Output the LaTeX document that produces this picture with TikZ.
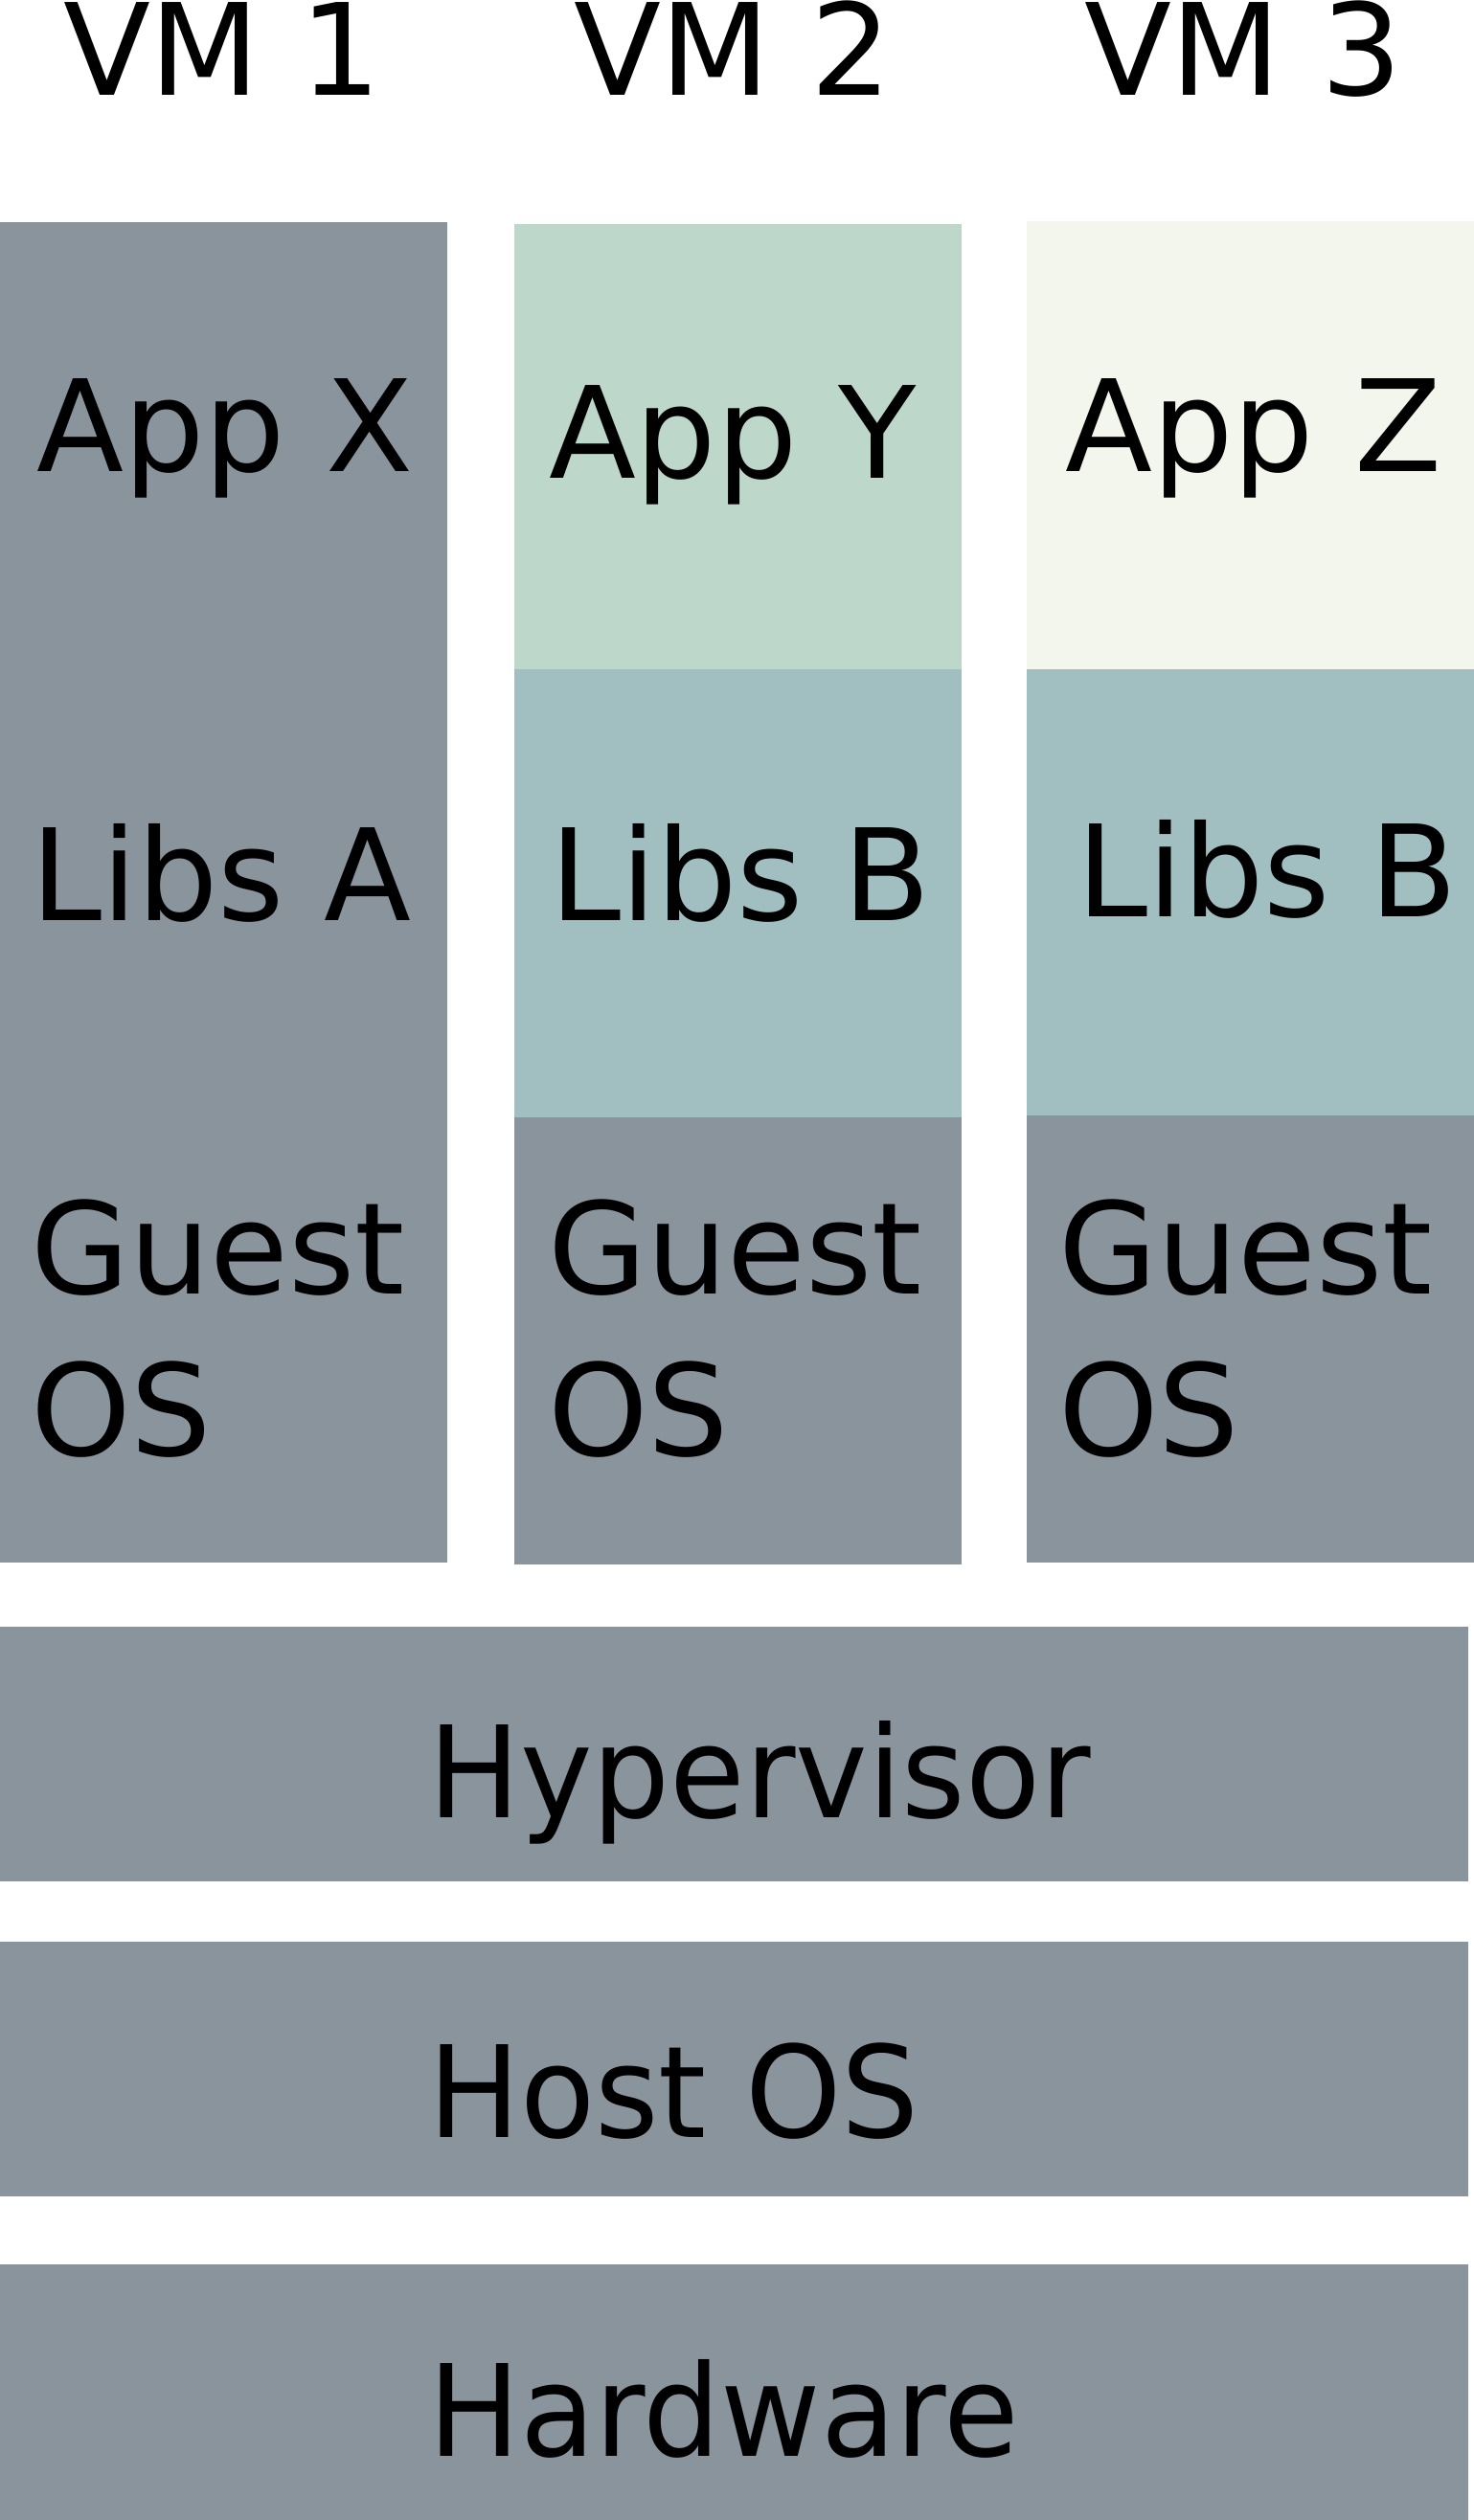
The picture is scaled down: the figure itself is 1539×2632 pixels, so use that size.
\documentclass[tikz,border=0pt]{standalone}
\usepackage{fontspec}
\setmainfont{DejaVu Sans}
\definecolor{slate}{HTML}{8A949D}
\definecolor{appY}{HTML}{BDD7CB}
\definecolor{appZ}{HTML}{F2F6EC}
\definecolor{libsB}{HTML}{A1BFC0}
\newcommand{\narrowtext}[1]{\scalebox{0.96}[1]{#1}}
\begin{document}
\begin{tikzpicture}[x=1pt,y=-1pt,
  box/.style={inner sep=0pt,outer sep=0pt,draw=none,anchor=north west},
  lbl/.style={inner sep=0pt,outer sep=0pt,anchor=base west,font=\fontsize{133}{169}\selectfont},
  glbl/.style={inner sep=0pt,outer sep=0pt,anchor=base west,align=left,font=\fontsize{133}{169}\selectfont}]
\useasboundingbox[fill=white] (0,0) rectangle (1539,2632);
% VM columns
\node[box,fill=slate,minimum width=467pt,minimum height=467pt] (appx) at (0,232) {};
\node[box,fill=slate,minimum width=467pt,minimum height=466pt] (libsa) at (0,699) {};
\node[box,fill=slate,minimum width=467pt,minimum height=467pt] (guest1) at (0,1165) {};
\node[box,fill=appY,minimum width=466.5pt,minimum height=465pt] (appy) at (537,234) {};
\node[box,fill=libsB,minimum width=466.5pt,minimum height=468pt] (libsb2) at (537,699) {};
\node[box,fill=slate,minimum width=466.5pt,minimum height=466.5pt] (guest2) at (537,1167) {};
\node[box,fill=appZ,minimum width=467pt,minimum height=468pt] (appz) at (1072,231) {};
\node[box,fill=libsB,minimum width=467pt,minimum height=466pt] (libsb3) at (1072,699) {};
\node[box,fill=slate,minimum width=467pt,minimum height=467pt] (guest3) at (1072,1165) {};
% shared layers
\node[box,fill=slate,minimum width=1533pt,minimum height=266.5pt] (hyp) at (0,1698.5) {};
\node[box,fill=slate,minimum width=1533pt,minimum height=266.5pt] (host) at (0,2027.5) {};
\node[box,fill=slate,minimum width=1533pt,minimum height=267pt] (hw) at (0,2365) {};
% labels
\node[lbl] (vm1) at (66,99) {VM 1};
\node[lbl] (vm2) at (599,99) {VM 2};
\node[lbl] (vm3) at (1132,99) {VM 3};
\node[lbl] (tappx) at (38.5,492) {App X};
\node[lbl] (tappy) at (573,499) {App Y};
\node[lbl] (tappz) at (1112.5,492) {App Z};
\node[lbl] (tlibsa) at (32,961) {Libs A};
\node[lbl] (tlibsb2) at (574,961) {Libs B};
\node[lbl] (tlibsb3) at (1124,957) {Libs B};
\node[glbl] (tguest1) at (32,1520) {Guest\\OS};
\node[glbl] (tguest2) at (572,1520) {Guest\\OS};
\node[glbl] (tguest3) at (1105,1520) {Guest\\OS};
\node[lbl] (thyp) at (447,1898) {\narrowtext{Hypervisor}};
\node[lbl] (thost) at (447,2232) {\narrowtext{Host OS}};
\node[lbl] (thw) at (447,2565.5) {\narrowtext{Hardware}};
\end{tikzpicture}
\end{document}
